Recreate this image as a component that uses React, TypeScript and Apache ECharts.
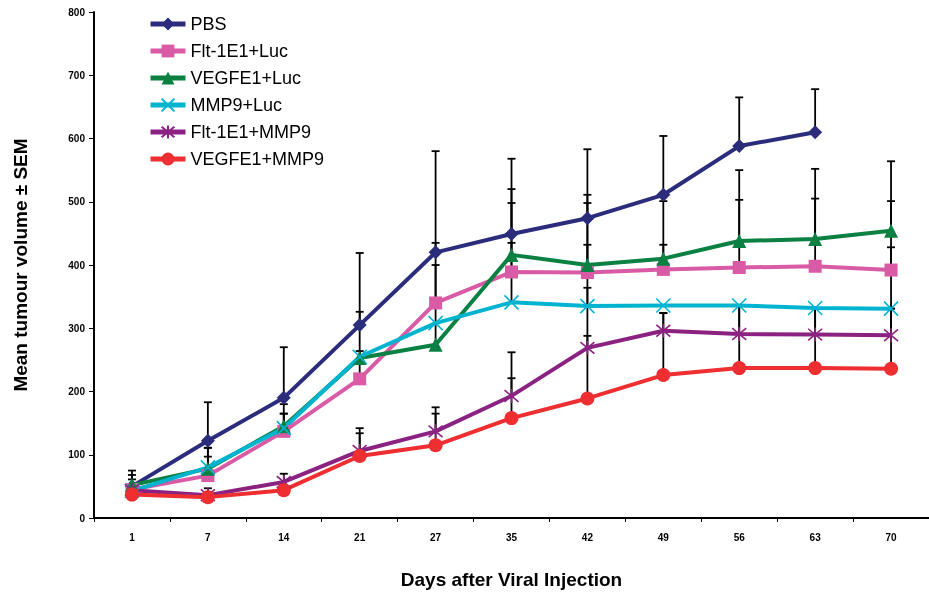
import React, { useEffect, useRef } from "react";
import * as echarts from "echarts";

const days = ["1", "7", "14", "21", "27", "35", "42", "49", "56", "63", "70"];
const yTicks = [0, 100, 200, 300, 400, 500, 600, 700, 800];

const seriesNames = ["PBS", "Flt-1E1+Luc", "VEGFE1+Luc", "MMP9+Luc", "Flt-1E1+MMP9", "VEGFE1+MMP9"];
const seriesColors = ["#2B2C7C", "#D95BA6", "#0A8043", "#00B4D0", "#8B2282", "#EE2E31"];

const pbs = [50, 122, 190, 305, 420, 449, 474, 511, 588, 610, null];
const flt1Luc = [45, 67, 137, 220, 340, 389, 388, 393, 396, 398, 392];
const vegfLuc = [52, 78, 145, 253, 274, 416, 400, 410, 438, 441, 454];
const mmp9Luc = [43, 80, 142, 255, 308, 341, 335, 336, 336, 332, 331];
const flt1Mmp9 = [44, 36, 57, 106, 137, 193, 269, 296, 291, 290, 289];
const vegfMmp9 = [37, 33, 44, 98, 115, 158, 189, 226, 237, 237, 236];

// upper end of SEM bars
const pbsErr = [75, 183, 270, 419, 580, 568, 583, 604, 665, 678, null];
const flt1LucErr = [null, 111, 165, 264, 435, 498, 498, 432, 503, 505, 501];
const vegfLucErr = [68, 111, 180, 326, 400, 520, 511, 501, 550, 552, 564];
const mmp9LucErr = [61, 97, 165, null, null, 435, 432, 336, 336, 332, 428];
const flt1Mmp9Err = [null, 47, 70, 142, 175, 262, 364, 324, 336, 332, 331];
const vegfMmp9Err = [null, null, null, 134, 165, 221, 288, 324, 336, 332, 331];

const values = [pbs, flt1Luc, vegfLuc, mmp9Luc, flt1Mmp9, vegfMmp9];
const errors = [pbsErr, flt1LucErr, vegfLucErr, mmp9LucErr, flt1Mmp9Err, vegfMmp9Err];

const symbols = [
  "diamond",
  "rect",
  "triangle",
  "path://M0,0L10,10M10,0L0,10",
  "path://M0,0L10,10M10,0L0,10M5,-1L5,11",
  "circle",
];
const symbolSizes = [14, 13, 14, 14, 14, 14];

export default function App() {
  const ref = useRef<HTMLDivElement>(null);
  useEffect(() => {
    if (!ref.current) return;
    const chart = echarts.init(ref.current, null, { renderer: "svg" });
    const font = "'Liberation Sans', Arial, sans-serif";

    const errSeries = errors.map((err, si) => ({
      type: "custom",
      z: 1,
      silent: true,
      data: err
        .map((e, i) => (e == null || values[si][i] == null ? null : [i, e, values[si][i]]))
        .filter((d) => d != null),
      renderItem: (params: any, api: any) => {
        const top = api.coord([api.value(0), api.value(1)]);
        const bot = api.coord([api.value(0), api.value(2)]);
        const st = { stroke: "#000", lineWidth: 1.8 };
        return {
          type: "group",
          children: [
            { type: "line", shape: { x1: top[0], y1: top[1], x2: bot[0], y2: bot[1] }, style: st },
            { type: "line", shape: { x1: top[0] - 4, y1: top[1], x2: top[0] + 4, y2: top[1] }, style: st },
          ],
        };
      },
    }));

    const lineSeries = seriesNames.map((name, si) => {
      const isStroke = si === 3 || si === 4;
      return {
        name,
        type: "line",
        z: 3,
        data: values[si],
        symbol: symbols[si],
        symbolSize: symbolSizes[si],
        showAllSymbol: true,
        lineStyle: { color: seriesColors[si], width: 4 },
        itemStyle: {
          color: seriesColors[si],
          borderColor: seriesColors[si],
          borderWidth: isStroke ? 1.6 : 0,
        },
      };
    });

    chart.setOption({
      animation: false,
      textStyle: { fontFamily: font },
      grid: { left: 94, right: -5, top: 12, bottom: 77 },
      legend: {
        data: seriesNames,
        orient: "vertical",
        left: 143,
        top: 10,
        itemWidth: 35,
        itemHeight: 16,
        itemGap: 9,
        lineStyle: { width: 5 },
        textStyle: { fontSize: 18, color: "#000", fontFamily: font },
      },
      xAxis: {
        type: "category",
        data: days,
        boundaryGap: true,
        name: "Days after Viral Injection",
        nameLocation: "middle",
        nameGap: 52,
        nameTextStyle: { fontSize: 19, fontWeight: "bold", color: "#000", fontFamily: font },
        axisLine: { lineStyle: { color: "#000", width: 2 } },
        axisTick: { show: true, length: 4, lineStyle: { color: "#000", width: 1 } },
        axisLabel: { fontSize: 10, fontWeight: "bold", color: "#000", margin: 14, fontFamily: font },
      },
      yAxis: {
        type: "value",
        min: yTicks[0],
        max: yTicks[yTicks.length - 1],
        interval: 100,
        name: "Mean tumour volume ± SEM",
        nameLocation: "middle",
        nameGap: 64,
        nameTextStyle: { fontSize: 19, fontWeight: "bold", color: "#000", fontFamily: font },
        axisLine: { show: true, lineStyle: { color: "#000", width: 2 } },
        axisTick: { show: true, length: 5, lineStyle: { color: "#000", width: 1 } },
        splitLine: { show: false },
        axisLabel: { fontSize: 10, fontWeight: "bold", color: "#000", margin: 9, fontFamily: font },
      },
      series: [...errSeries, ...lineSeries],
    });
    return () => chart.dispose();
  }, []);
  return <div ref={ref} style={{ width: 929, height: 595, position: "fixed", left: 0, top: 0 }} />;
}
